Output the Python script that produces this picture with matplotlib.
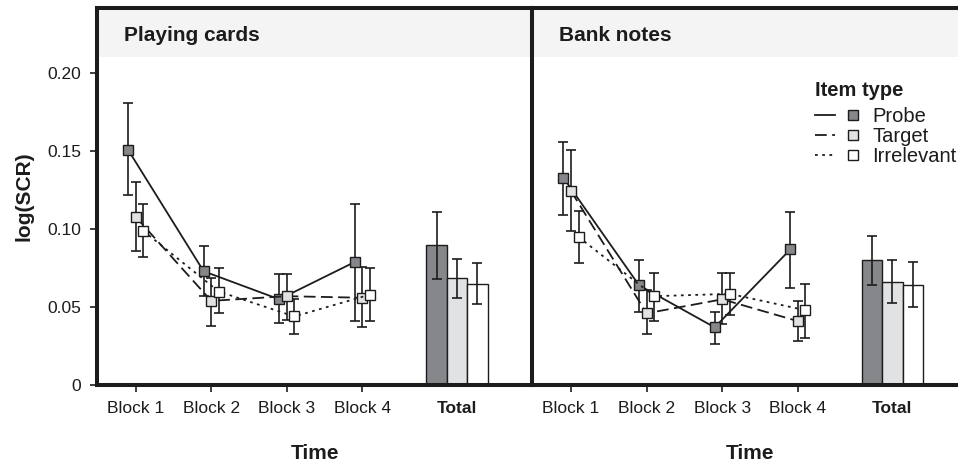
import matplotlib
matplotlib.use('Agg')
import matplotlib.pyplot as plt
import numpy as np
from matplotlib.lines import Line2D
from matplotlib.legend_handler import HandlerTuple

plt.rcParams['font.family'] = ['Liberation Sans', 'DejaVu Sans']

blocks = ['Block 1', 'Block 2', 'Block 3', 'Block 4']
item_types = ['Probe', 'Target', 'Irrelevant']

# playing cards: rows = probe, target, irrelevant
cards_mean = [[0.151, 0.073, 0.055, 0.079],
              [0.108, 0.054, 0.057, 0.056],
              [0.099, 0.060, 0.044, 0.058]]
cards_low = [[0.122, 0.057, 0.040, 0.041],
             [0.086, 0.038, 0.042, 0.037],
             [0.082, 0.046, 0.033, 0.041]]
cards_high = [[0.181, 0.089, 0.071, 0.116],
              [0.130, 0.069, 0.071, 0.076],
              [0.116, 0.075, 0.055, 0.075]]
cards_total = [0.0896, 0.0688, 0.0650]
cards_total_low = [0.068, 0.056, 0.052]
cards_total_high = [0.111, 0.081, 0.078]

# bank notes
notes_mean = [[0.133, 0.064, 0.037, 0.087],
              [0.1245, 0.046, 0.055, 0.041],
              [0.095, 0.057, 0.0585, 0.048]]
notes_low = [[0.109, 0.047, 0.026, 0.062],
             [0.099, 0.033, 0.039, 0.028],
             [0.078, 0.041, 0.045, 0.030]]
notes_high = [[0.156, 0.080, 0.047, 0.111],
              [0.151, 0.061, 0.072, 0.054],
              [0.112, 0.072, 0.072, 0.065]]
notes_total = [0.080, 0.0664, 0.0645]
notes_total_low = [0.0645, 0.0527, 0.050]
notes_total_high = [0.0954, 0.080, 0.0788]

dark = '#1c1c1c'
fills = ['#86878a', '#e1e2e3', '#ffffff']
styles = ['-', (0, (6.5, 3)), (0, (1.5, 2.5))]
dodge = [-0.1, 0.0, 0.1]
total_pos = 5.25
bar_w = 0.27
y_top = 0.242
strip_bottom = 0.2106


def draw_panel(ax, title, mean, low, high, tot, tot_low, tot_high):
    x = np.arange(1, len(blocks) + 1)
    for i in range(len(item_types)):
        m = np.array(mean[i])
        err = [m - np.array(low[i]), np.array(high[i]) - m]
        ax.errorbar(x + dodge[i], m, yerr=err, fmt='none', ecolor=dark,
                    elinewidth=1.2, capsize=3.6, capthick=1.2, zorder=3)
        ax.plot(x + dodge[i], m, color=dark, lw=1.3, ls=styles[i],
                marker='s', ms=7, mfc=fills[i], mec=dark, mew=1, zorder=4 + i)

    bx = total_pos + bar_w * np.array([-1, 0, 1])
    tot = np.array(tot)
    ax.bar(bx, tot, width=bar_w, color=fills, edgecolor=dark, lw=1, zorder=2)
    ax.errorbar(bx, tot, yerr=[tot - np.array(tot_low), np.array(tot_high) - tot],
                fmt='none', ecolor=dark, elinewidth=1.2, capsize=3.6,
                capthick=1.2, zorder=3)

    ax.axhspan(strip_bottom, y_top, color='#f4f4f4', lw=0, zorder=0)
    ax.text(0.061, 0.927, title, transform=ax.transAxes, fontsize=15,
            fontweight='bold', color=dark, va='center', ha='left')

    ax.set_xlim(0.49, 6.25)
    ax.set_ylim(0, y_top)
    ax.set_xticks(list(x) + [total_pos])
    ax.set_xticklabels(blocks + ['Total'])
    tl = ax.get_xticklabels()[-1]
    tl.set_fontweight('bold')
    ax.xaxis.get_major_ticks()[-1].tick1line.set_visible(False)
    ax.tick_params(axis='both', length=5, width=1.2, color=dark,
                   labelsize=12.5, labelcolor=dark, pad=6.5)
    ax.set_xlabel('Time', fontsize=15, fontweight='bold', color=dark, labelpad=20)
    for s in ax.spines.values():
        s.set_linewidth(2.9)
        s.set_color(dark)


fig = plt.figure(figsize=(9.58, 4.61), dpi=100)
ax_l = fig.add_axes([0.1013, 0.1649, 0.4546, 0.8177])
ax_r = fig.add_axes([0.5558, 0.1649, 0.4546, 0.8177])

draw_panel(ax_l, 'Playing cards', cards_mean, cards_low, cards_high,
           cards_total, cards_total_low, cards_total_high)
draw_panel(ax_r, 'Bank notes', notes_mean, notes_low, notes_high,
           notes_total, notes_total_low, notes_total_high)

ax_l.set_yticks([0, 0.05, 0.10, 0.15, 0.20])
ax_l.set_yticklabels(['0', '0.05', '0.10', '0.15', '0.20'])
ax_l.set_ylabel('log(SCR)', fontsize=15, fontweight='bold', color=dark, labelpad=10)
ax_r.tick_params(axis='y', left=False, labelleft=False)

handles = []
for i in range(len(item_types)):
    ln = Line2D([], [], color=dark, lw=1.3, ls=styles[i])
    mk = Line2D([], [], ls='none', marker='s', ms=7.5, mfc=fills[i], mec=dark, mew=1)
    handles.append((ln, mk))
leg = ax_r.legend(handles, item_types, handler_map={tuple: HandlerTuple(ndivide=None, pad=0.4)},
                  loc='upper left', bbox_to_anchor=(0.649, 0.807), frameon=False,
                  title='Item type', title_fontproperties={'weight': 'bold', 'size': 14.5},
                  alignment='left', fontsize=14.5, handlelength=2.4, handletextpad=0.45,
                  labelspacing=0.045, borderpad=0, borderaxespad=0)
# a bit more room between the title and the entries
leg._legend_box.sep = 5.3
for t in leg.get_texts():
    t.set_color(dark)
leg.get_title().set_color(dark)

fig.savefig('out.png', dpi=100)
